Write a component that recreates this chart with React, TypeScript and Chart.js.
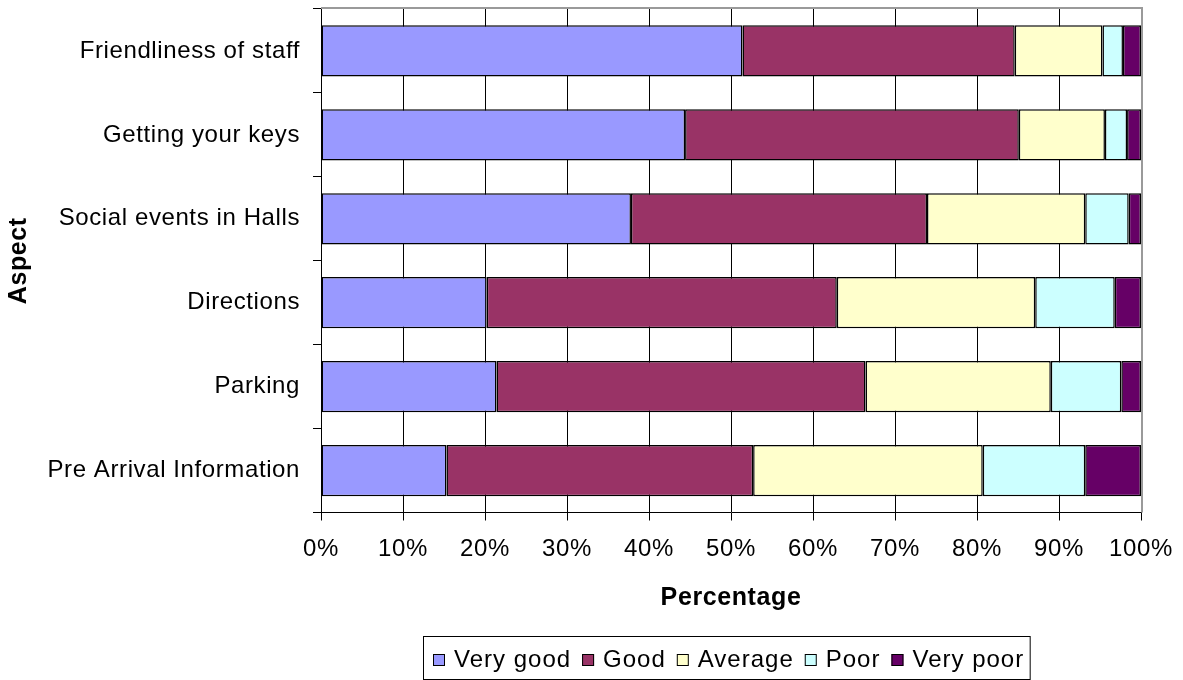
import React, { useEffect, useRef } from 'react';
import { Chart, registerables } from 'chart.js';

Chart.register(...registerables);

const FONT = '"Liberation Sans", Arial, Helvetica, sans-serif';

const categories = [
  'Friendliness of staff',
  'Getting your keys',
  'Social events in Halls',
  'Directions',
  'Parking',
  'Pre Arrival Information',
];

const seriesNames = ['Very good', 'Good', 'Average', 'Poor', 'Very poor'];
const seriesColors = ['#9999FF', '#993366', '#FFFFCC', '#CCFFFF', '#660066'];

const veryGood = [51.4, 44.4, 37.8, 20.2, 21.4, 15.3];
const good = [33.2, 40.7, 36.1, 42.7, 45.0, 37.4];
const average = [10.7, 10.5, 19.3, 24.2, 22.6, 28.0];
const poor = [2.5, 2.7, 5.3, 9.7, 8.6, 12.5];
const veryPoor = [2.2, 1.7, 1.5, 3.2, 2.4, 6.8];

const seriesValues = [veryGood, good, average, poor, veryPoor];

const xMin = 0;
const xMax = 100;
const xStep = 10;

const spacingPlugin = {
  id: 'spacing',
  beforeDraw(chart: any) {
    chart.ctx.letterSpacing = '0.6px';
  },
};

const framePlugin = {
  id: 'frame',
  afterDraw(chart: any) {
    const { ctx, chartArea } = chart;
    ctx.save();
    ctx.strokeStyle = '#9a9a9a';
    ctx.lineWidth = 2;
    ctx.beginPath();
    ctx.moveTo(chartArea.left, chartArea.top - 1);
    ctx.lineTo(chartArea.right + 2, chartArea.top - 1);
    ctx.moveTo(chartArea.right + 1, chartArea.top - 1);
    ctx.lineTo(chartArea.right + 1, chartArea.bottom);
    ctx.stroke();
    ctx.restore();
  },
};

const legendPlugin = {
  id: 'boxLegend',
  afterDraw(chart: any) {
    const ctx = chart.ctx;
    ctx.save();
    ctx.font = `24px ${FONT}`;
    ctx.letterSpacing = '1px';
    ctx.textBaseline = 'middle';
    ctx.textAlign = 'left';
    const sw = 12;
    const gapT = 9;
    const gapItem = 11;
    const startX = 433;
    const cy = 660;
    let x = startX;
    const dsets = chart.data.datasets;
    dsets.forEach((ds: any, i: number) => {
      ctx.fillStyle = ds.backgroundColor;
      ctx.fillRect(x, cy - 6, sw, sw);
      ctx.strokeStyle = '#000';
      ctx.lineWidth = 1;
      ctx.strokeRect(x + 0.5, cy - 5.5, sw - 1, sw - 1);
      x += sw + gapT;
      ctx.fillStyle = '#000';
      ctx.fillText(ds.label, x, cy);
      x += ctx.measureText(ds.label).width;
      if (i < dsets.length - 1) x += gapItem;
    });
    ctx.strokeStyle = '#000';
    ctx.lineWidth = 1;
    ctx.strokeRect(423.5, 636.5, x + 6 - 423.5, 43);
    ctx.restore();
  },
};

export default function App() {
  const ref = useRef<HTMLCanvasElement>(null);
  useEffect(() => {
    document.body.style.margin = '0';
    const chart = new Chart(ref.current as HTMLCanvasElement, {
      type: 'bar',
      data: {
        labels: categories,
        datasets: seriesNames.map((name, i) => ({
          label: name,
          data: seriesValues[i],
          backgroundColor: seriesColors[i],
          borderColor: '#000',
          borderWidth: 1.5,
          borderSkipped: false,
          barPercentage: 0.61,
          categoryPercentage: 1,
        })),
      },
      options: {
        indexAxis: 'y',
        responsive: false,
        animation: false,
        devicePixelRatio: 1,
        layout: { autoPadding: false, padding: { top: 9, right: 42, bottom: 64.5, left: 0 } },
        plugins: { legend: { display: false }, tooltip: { enabled: false } },
        scales: {
          x: {
            stacked: true,
            min: xMin,
            max: xMax,
            ticks: {
              stepSize: xStep,
              callback: (v: any) => `${v}%`,
              font: { family: FONT, size: 24 },
              color: '#000',
              padding: 14,
              maxRotation: 0,
              autoSkip: false,
            },
            grid: {
              color: (c: any) => (c.tick && c.tick.value === xMax ? 'rgba(0,0,0,0)' : '#000'),
              tickColor: '#000',
              tickLength: 8,
              lineWidth: 1,
            },
            border: { color: '#000', width: 1 },
            title: {
              display: true,
              text: 'Percentage',
              font: { family: FONT, size: 25, weight: 'bold' },
              color: '#000',
              padding: { top: 0, bottom: 2 },
            },
            afterFit: (s: any) => {
              s.height = 103;
              s.paddingLeft = 0;
              s.paddingRight = 0;
            },
          },
          y: {
            stacked: true,
            ticks: { font: { family: FONT, size: 24 }, color: '#000', padding: 13 },
            grid: { drawOnChartArea: false, tickColor: '#000', tickLength: 8, offset: true },
            border: { color: '#000', width: 1 },
            title: {
              display: true,
              text: 'Aspect',
              font: { family: FONT, size: 25, weight: 'bold' },
              color: '#000',
              padding: { top: 4, bottom: 0 },
            },
            afterFit: (s: any) => {
              s.width = 321;
              s.paddingTop = 0;
              s.paddingBottom = 0;
            },
          },
        },
      } as any,
      plugins: [spacingPlugin, framePlugin, legendPlugin],
    });
    return () => chart.destroy();
  }, []);
  return (
    <div style={{ position: 'absolute', left: 0, top: 0, width: 1183, height: 680, background: '#fff' }}>
      <canvas ref={ref} width={1183} height={680} style={{ display: 'block' }} />
    </div>
  );
}
